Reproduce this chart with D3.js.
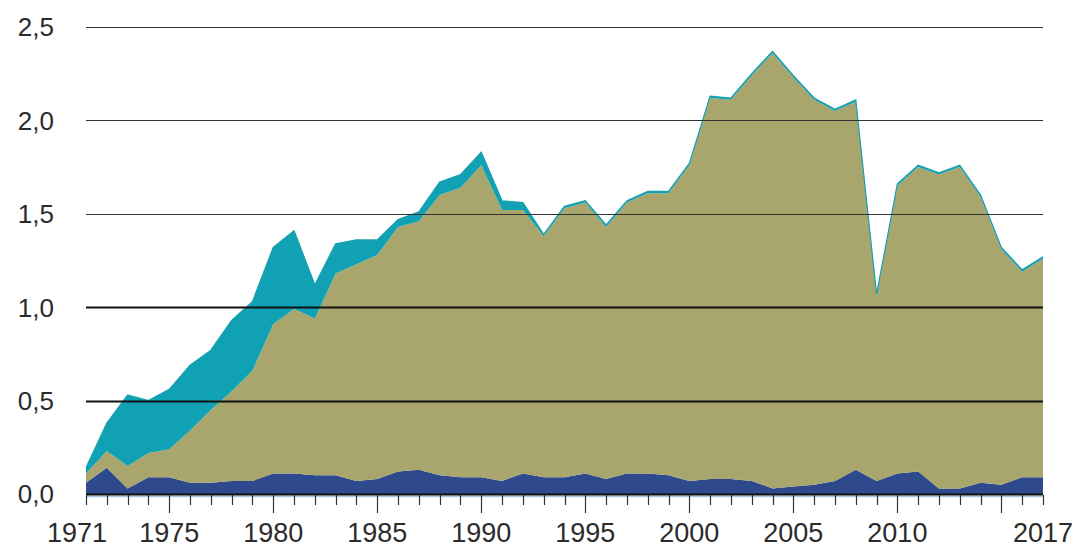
<!DOCTYPE html>
<html>
<head>
<meta charset="utf-8">
<script src="https://cdn.jsdelivr.net/npm/d3@7"></script>
<style>
  body { margin: 0; background: #fff; }
  svg { display: block; }
  text { font-family: Arial, "Liberation Sans", sans-serif; fill: #2b2b2b; }
</style>
</head>
<body>
<svg id="chart" width="1078" height="549"></svg>
<script>
let years = d3.range(1971, 2018);

// bottom layer (dark blue)
let seriesBlue = [0.06, 0.14, 0.03, 0.09, 0.09, 0.06, 0.06, 0.07, 0.07, 0.11,
  0.11, 0.10, 0.10, 0.07, 0.08, 0.12, 0.13, 0.10, 0.09, 0.09,
  0.07, 0.11, 0.09, 0.09, 0.11, 0.08, 0.11, 0.11, 0.10, 0.07,
  0.08, 0.08, 0.07, 0.03, 0.04, 0.05, 0.07, 0.13, 0.07, 0.11,
  0.12, 0.03, 0.03, 0.06, 0.05, 0.09, 0.09];

// middle layer (olive)
let seriesOlive = [0.05, 0.09, 0.12, 0.13, 0.15, 0.28, 0.39, 0.48, 0.59, 0.80,
  0.88, 0.84, 1.08, 1.16, 1.20, 1.31, 1.33, 1.50, 1.55, 1.67,
  1.45, 1.41, 1.29, 1.44, 1.45, 1.35, 1.45, 1.50, 1.51, 1.69,
  2.04, 2.03, 2.17, 2.33, 2.19, 2.06, 1.98, 1.97, 0.99, 1.54,
  1.63, 1.68, 1.72, 1.53, 1.26, 1.10, 1.17];

// top layer (teal)
let seriesTeal = [0.03, 0.15, 0.38, 0.28, 0.32, 0.35, 0.32, 0.38, 0.37, 0.41,
  0.42, 0.18, 0.16, 0.13, 0.08, 0.04, 0.05, 0.07, 0.07, 0.07,
  0.05, 0.04, 0.01, 0.01, 0.01, 0.01, 0.01, 0.01, 0.01, 0.01,
  0.01, 0.01, 0.01, 0.01, 0.01, 0.01, 0.01, 0.01, 0.01, 0.01,
  0.01, 0.01, 0.01, 0.01, 0.01, 0.01, 0.01];

let yTicks = [0, 0.5, 1.0, 1.5, 2.0, 2.5];
let xLabels = [1971, 1975, 1980, 1985, 1990, 1995, 2000, 2005, 2010, 2017];

let keys = ['blue', 'olive', 'teal'];
let colors = { blue: '#2f4a8c', olive: '#a8a66d', teal: '#10a2b4' };

let rows = years.map((yr, i) => ({
  year: yr, blue: seriesBlue[i], olive: seriesOlive[i], teal: seriesTeal[i]
}));

let svg = d3.select('#chart');

let x = d3.scaleLinear().domain([1971, 2017]).range([86, 1043]);
let y = d3.scaleLinear().domain([0, 2.5]).range([494, 27]);

let stack = d3.stack().keys(keys);
let layers = stack(rows);

let area = d3.area()
  .x(d => x(d.data.year))
  .y0(d => y(d[0]))
  .y1(d => y(d[1]));

svg.append('g')
  .selectAll('path')
  .data(layers)
  .enter()
  .append('path')
  .attr('d', area)
  .attr('fill', d => colors[d.key]);

// thin teal outline along the top
let topLine = d3.line()
  .x(d => x(d.data.year))
  .y(d => y(d[1]));
svg.append('path')
  .datum(layers[2])
  .attr('d', topLine)
  .attr('fill', 'none')
  .attr('stroke', '#1a9fae')
  .attr('stroke-width', 1.2);

// gridlines
svg.append('g')
  .selectAll('line')
  .data(yTicks.filter(d => d > 0))
  .enter()
  .append('line')
  .attr('x1', 86)
  .attr('x2', 1043)
  .attr('y1', d => Math.round(y(d)) + 0.5)
  .attr('y2', d => Math.round(y(d)) + 0.5)
  .attr('stroke', d => d <= 1 ? '#111' : '#333')
  .attr('stroke-width', d => d <= 1 ? 2 : 1.2);

// y labels
svg.append('g')
  .selectAll('text')
  .data(yTicks)
  .enter()
  .append('text')
  .attr('x', 54)
  .attr('y', d => y(d))
  .attr('dy', '0.36em')
  .attr('text-anchor', 'end')
  .style('font-size', '26px')
  .text(d => d3.format('.1f')(d).replace('.', ','));

// baseline
svg.append('line')
  .attr('x1', 86).attr('x2', 1043)
  .attr('y1', 496.5).attr('y2', 496.5)
  .attr('stroke', '#a9c8e6').attr('stroke-width', 1.5);
svg.append('line')
  .attr('x1', 86).attr('x2', 1043)
  .attr('y1', 494.5).attr('y2', 494.5)
  .attr('stroke', '#111').attr('stroke-width', 2);

// ticks
svg.append('g')
  .selectAll('line')
  .data(years)
  .enter()
  .append('line')
  .attr('x1', d => Math.round(x(d)) + 0.5)
  .attr('x2', d => Math.round(x(d)) + 0.5)
  .attr('y1', 495)
  .attr('y2', d => (d % 5 === 0) ? 513 : 505)
  .attr('stroke', '#333')
  .attr('stroke-width', 1.2);

// x labels
svg.append('g')
  .selectAll('text')
  .data(xLabels)
  .enter()
  .append('text')
  .attr('x', d => x(d) - (d === 1971 ? 9 : 0))
  .attr('y', 542)
  .attr('text-anchor', 'middle')
  .style('font-size', '27px')
  .text(d => d);
</script>
</body>
</html>
